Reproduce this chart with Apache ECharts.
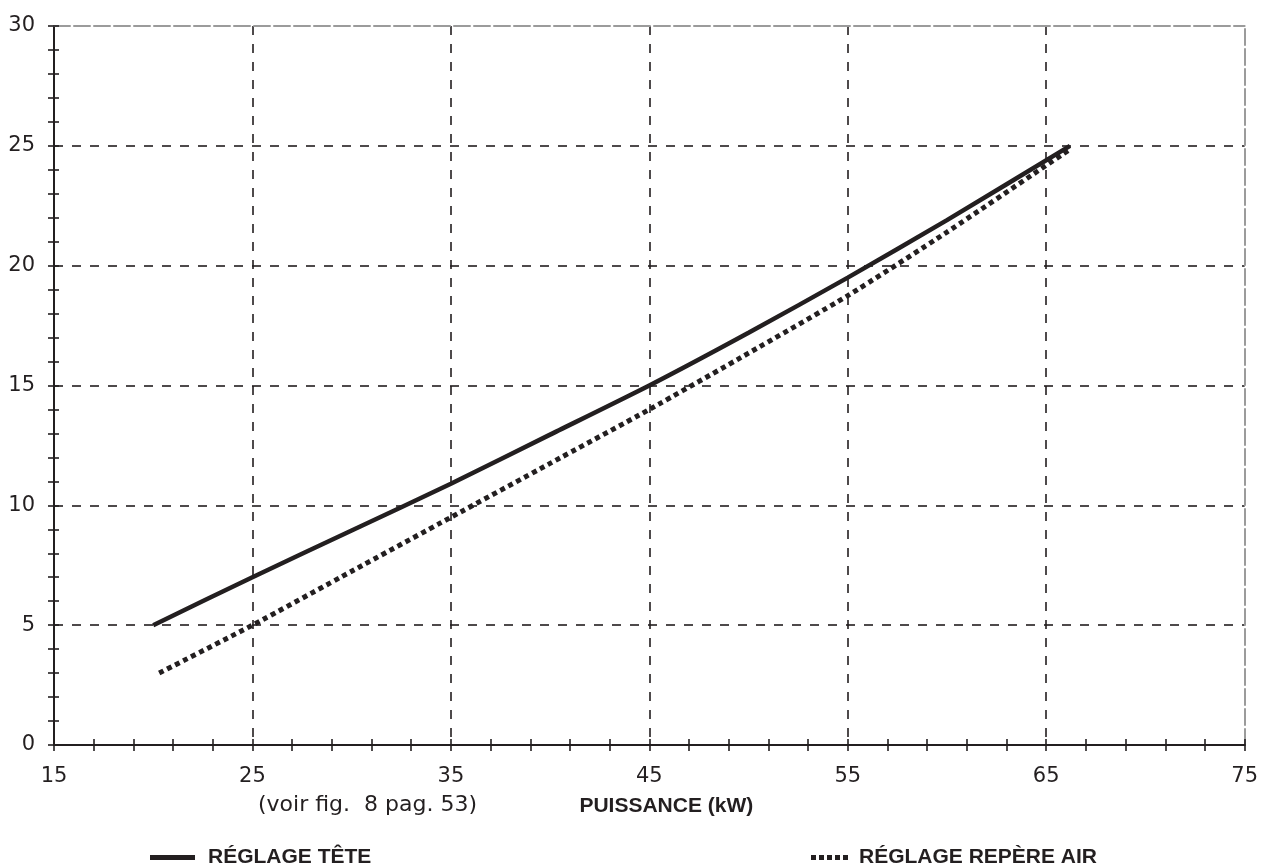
<!DOCTYPE html>
<html><head><meta charset="utf-8">
<script src="https://cdn.jsdelivr.net/npm/echarts@6/dist/echarts.min.js"></script>
<style>html,body{margin:0;padding:0;background:#fff}#c{width:1261px;height:868px}</style>
</head><body><div id="c"></div>
<script>
// ---- data ----
const seriesNames = ['RÉGLAGE TÊTE', 'RÉGLAGE REPÈRE AIR'];
const puissanceTete = [20, 25, 30, 35, 40, 45, 50, 55, 60, 66.2];
const reglageTete   = [5, 7, 8.95, 10.9, 12.95, 15, 17.2, 19.5, 21.9, 25];
const puissanceAir  = [20.3, 25, 30, 35, 40, 45, 50, 55, 60, 66.1];
const reglageAir    = [3, 5, 7.25, 9.5, 11.75, 14, 16.35, 18.75, 21.4, 24.8];
const xTickLabels = [15, 25, 35, 45, 55, 65, 75];
const yTickLabels = [0, 5, 10, 15, 20, 25, 30];
const xAxisTitle = 'PUISSANCE (kW)';
const noteText = '(voir fig.  8 pag. 53)';

// ---- styles ----
const INK = '#231f20';
const numFont = 'DejaVu Sans';
const boldFont = 'Liberation Sans';
const pairs = (xs, ys) => xs.map((x, i) => [x, ys[i]]);
const gridColorsX = xTickLabels.map((v, i) => (i === 0 || i === xTickLabels.length - 1) ? 'rgba(0,0,0,0)' : INK);
const gridColorsY = yTickLabels.map((v, i) => (i === 0 || i === yTickLabels.length - 1) ? 'rgba(0,0,0,0)' : INK);

const xMin = xTickLabels[0], xMax = xTickLabels[xTickLabels.length - 1];
const xInt = xTickLabels[1] - xTickLabels[0];
const yMin = yTickLabels[0], yMax = yTickLabels[yTickLabels.length - 1];
const yInt = yTickLabels[1] - yTickLabels[0];

const tickStyle = { color: INK, width: 1.6 };
const baseX = { type: 'value', min: xMin, max: xMax, interval: xInt };
const baseY = { type: 'value', min: yMin, max: yMax, interval: yInt };

const chart = echarts.init(document.getElementById('c'));
chart.setOption({
  animation: false,
  backgroundColor: '#fff',
  grid: { left: 54, right: 16, top: 26, bottom: 123, containLabel: false },
  xAxis: [
    Object.assign({}, baseX, {
      position: 'bottom',
      axisLine: { show: true, onZero: false, lineStyle: { color: INK, width: 2 } },
      axisTick: { show: true, inside: false, length: 6, lineStyle: tickStyle },
      minorTick: { show: true, splitNumber: 5, length: 6, lineStyle: tickStyle },
      axisLabel: { show: true, margin: 21, color: INK, fontFamily: numFont, fontSize: 21 },
      splitLine: { show: true, lineStyle: { color: gridColorsX, width: 1.6, type: [9, 9] } },
      name: xAxisTitle, nameLocation: 'middle', nameGap: 51,
      nameTextStyle: { color: INK, fontFamily: boldFont, fontWeight: 'bold', fontSize: 21, padding: [0, 0, 0, 34] }
    }),
    Object.assign({}, baseX, {
      position: 'bottom',
      axisLine: { show: false, onZero: false },
      axisTick: { show: true, inside: true, length: 6, lineStyle: tickStyle },
      minorTick: { show: true, splitNumber: 5, length: 6, lineStyle: tickStyle },
      axisLabel: { show: false }, splitLine: { show: false }
    }),
    Object.assign({}, baseX, {
      position: 'top',
      axisLine: { show: true, onZero: false, lineStyle: { color: '#9b9b9b', width: 2, type: [16, 4] } },
      axisTick: { show: false }, minorTick: { show: false },
      axisLabel: { show: false }, splitLine: { show: false }
    })
  ],
  yAxis: [
    Object.assign({}, baseY, {
      position: 'left',
      axisLine: { show: true, onZero: false, lineStyle: { color: INK, width: 2 } },
      axisTick: { show: true, inside: false, length: 6, lineStyle: tickStyle },
      minorTick: { show: true, splitNumber: 5, length: 6, lineStyle: tickStyle },
      axisLabel: { show: true, margin: 19, color: INK, fontFamily: numFont, fontSize: 21 },
      splitLine: { show: true, lineStyle: { color: gridColorsY, width: 1.6, type: [9, 9] } }
    }),
    Object.assign({}, baseY, {
      position: 'left',
      axisLine: { show: false, onZero: false },
      axisTick: { show: true, inside: true, length: 5, lineStyle: tickStyle },
      minorTick: { show: true, splitNumber: 5, length: 5, lineStyle: tickStyle },
      axisLabel: { show: false }, splitLine: { show: false }
    }),
    Object.assign({}, baseY, {
      position: 'right',
      axisLine: { show: true, onZero: false, lineStyle: { color: '#9b9b9b', width: 2, type: [16, 4] } },
      axisTick: { show: false }, minorTick: { show: false },
      axisLabel: { show: false }, splitLine: { show: false }
    })
  ],
  legend: [
    {
      data: [seriesNames[0]], left: 145, top: 842, orient: 'horizontal',
      itemWidth: 45, itemHeight: 5, icon: 'rect', selectedMode: false,
      textStyle: { color: INK, fontFamily: boldFont, fontWeight: 'bold', fontSize: 21, padding: [0, 0, 10, 8] }
    },
    {
      data: [{ name: seriesNames[1], icon: 'path://M0,0h5v5h-5zM8,0h5v5h-5zM16,0h5v5h-5zM24,0h5v5h-5zM32,0h5v5h-5z' }],
      left: 806, top: 842, orient: 'horizontal',
      itemWidth: 37, itemHeight: 5, selectedMode: false,
      textStyle: { color: INK, fontFamily: boldFont, fontWeight: 'bold', fontSize: 21, padding: [0, 0, 10, 6] }
    }
  ],
  graphic: [
    { type: 'text', left: 258, top: 794, style: { text: noteText, fill: INK, font: '22px "' + numFont + '"' } }
  ],
  series: [
    {
      name: seriesNames[0], type: 'line', xAxisIndex: 0, yAxisIndex: 0,
      data: pairs(puissanceTete, reglageTete), symbol: 'none', smooth: 0.2,
      lineStyle: { color: INK, width: 4.5, cap: 'butt' }, itemStyle: { color: INK }
    },
    {
      name: seriesNames[1], type: 'line', xAxisIndex: 0, yAxisIndex: 0,
      data: pairs(puissanceAir, reglageAir), symbol: 'none', smooth: 0.2,
      lineStyle: { color: INK, width: 5, type: [5, 4], cap: 'butt' }, itemStyle: { color: INK }
    }
  ]
});
</script></body></html>
